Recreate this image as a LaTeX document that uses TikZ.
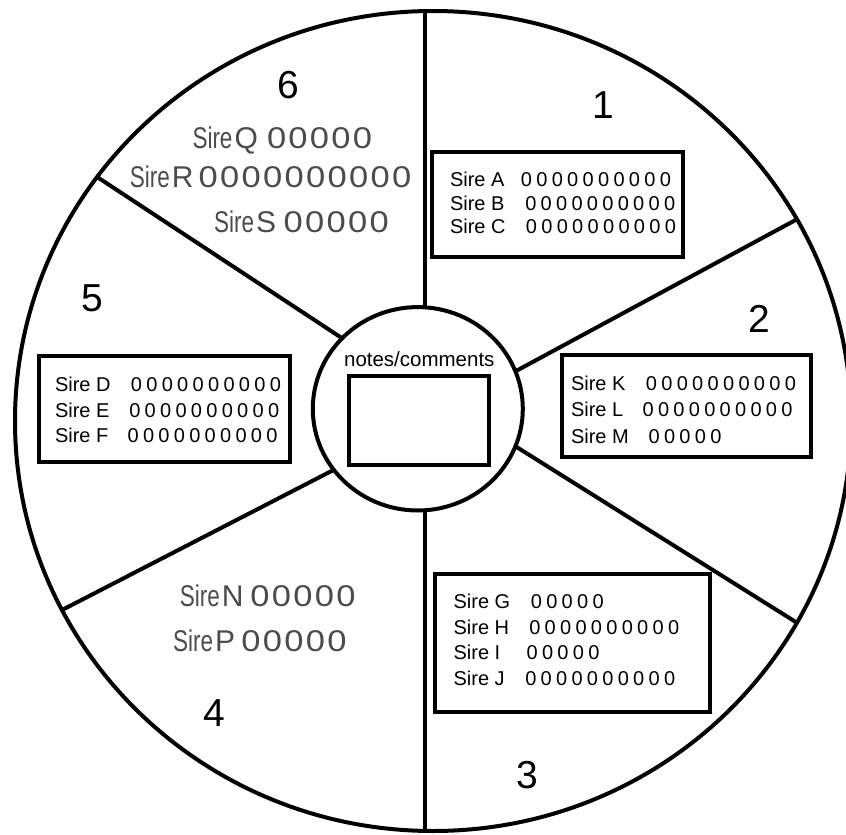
\documentclass[tikz,border=0pt]{standalone}
\usepackage{fontspec}
\setmainfont{Liberation Sans}
\newfontfamily\narrowfont{Liberation Sans}[FakeStretch=0.75]
\newfontfamily\widefont{Liberation Sans}[FakeStretch=1.15]
\usetikzlibrary{shapes.geometric}
\newcommand\zk{\kern4.3pt}
\newcommand\zfive{0\zk0\zk0\zk0\zk0}
\newcommand\zten{\zfive\zk\zfive}
\newcommand\lk{\kern2.3pt}
\newcommand\lfive{0\lk0\lk0\lk0\lk0}
\newcommand\lten{\lfive\lk\lfive}
\newcommand\lsire[1]{{\narrowfont Sire}\kern2pt#1}
\begin{document}
\begin{tikzpicture}[x=1pt,y=-1pt,
  ring/.style={ellipse, draw, line width=4pt, inner sep=0pt, outer sep=0pt},
  boxx/.style={rectangle, draw, line width=4pt, inner sep=0pt, outer sep=0pt},
  spoke/.style={line width=4pt},
  srow/.style={anchor=base west, inner sep=0pt, font=\fontsize{20}{24}\selectfont},
  lrow/.style={anchor=base west, inner sep=0pt, text=black!70, font=\fontsize{30}{36}\selectfont},
  num/.style={anchor=base, inner sep=0pt, font=\fontsize{39}{46}\selectfont},
  ]
\useasboundingbox (0,0) rectangle (846,835);
\fill[white] (0,0) rectangle (846,835);
\clip (0,0) rectangle (846,835);

% circles
\node[ring, minimum width=836pt, minimum height=820pt] (outer) at (433,421) {};
\node[ring, fill=white, minimum width=210pt, minimum height=203.4pt] (inner) at (417.8,408.8) {};

% spokes
\draw[spoke] (inner.86) -- (inner.86 |- outer.north);
\draw[spoke] (inner.-86) -- (inner.-86 |- outer.south);
\draw[spoke] (inner.137.8) -- (outer.144.9);
\draw[spoke] (inner.21.9) -- (outer.29.05);
\draw[spoke] (inner.-21.9) -- (outer.-29.1);
\draw[spoke] (inner.216.7) -- (outer.207.96);

% center
\node[anchor=base, inner sep=0pt, font=\fontsize{20.5}{24}\selectfont] (notes) at (419.3,366) {notes/comments};
\node[boxx, minimum width=140pt, minimum height=88.4pt] (notebox) at (418.7,420.5) {};

% boxes
\node[boxx, minimum width=251pt, minimum height=105.3pt] (box1) at (557.5,204.7) {};
\node[boxx, minimum width=249pt, minimum height=102.3pt] (box2) at (686.8,405.9) {};
\node[boxx, minimum width=274.7pt, minimum height=138pt] (box3) at (572.4,642.8) {};
\node[boxx, minimum width=250.4pt, minimum height=105.4pt] (box5) at (164.5,409) {};

% box 1
\node[srow] (rA) at (449.8,186.7) {\makebox[71pt][l]{Sire A}\zten};
\node[srow] (rB) at (449.8,210) {\makebox[75.3pt][l]{Sire B}\zten};
\node[srow] (rC) at (449.8,233.3) {\makebox[76pt][l]{Sire C}\zten};
% box 2
\node[srow] (rK) at (570.8,390.7) {\makebox[75pt][l]{Sire K}\zten};
\node[srow] (rL) at (570.8,416.7) {\makebox[71.6pt][l]{Sire L}\zten};
\node[srow] (rM) at (570.8,443.3) {\makebox[77.6pt][l]{Sire M}\zfive};
% box 5
\node[srow] (rD) at (54.8,391.7) {\makebox[76pt][l]{Sire D}\zten};
\node[srow] (rE) at (54.8,417.3) {\makebox[74.3pt][l]{Sire E}\zten};
\node[srow] (rF) at (54.8,442.7) {\makebox[72.6pt][l]{Sire F}\zten};
% box 3
\node[srow] (rG) at (453.4,608.3) {\makebox[77.3pt][l]{Sire G}\zfive};
\node[srow] (rH) at (453.4,634) {\makebox[75.7pt][l]{Sire H}\zten};
\node[srow] (rI) at (453.4,659.3) {\makebox[73pt][l]{Sire I}\zfive};
\node[srow] (rJ) at (453.4,685) {\makebox[71.7pt][l]{Sire J}\zten};

% light rows
\node[lrow] (rQ) at (192.3,148.3) {\makebox[74.5pt][l]{\lsire{Q}}{\widefont\lfive}};
\node[lrow] (rR) at (129.7,187.3) {\makebox[68.8pt][l]{\lsire{R}}{\widefont\lten}};
\node[lrow] (rS) at (214,232.7) {\makebox[69.5pt][l]{\lsire{S}}{\widefont\lfive}};
\node[lrow] (rN) at (179.7,606.7) {\makebox[70.5pt][l]{\lsire{N}}{\widefont\lfive}};
\node[lrow] (rP) at (173,651.7) {\makebox[68.2pt][l]{\lsire{P}}{\widefont\lfive}};

% sector numbers
\node[num] (n1) at (603.5,118.2) {1};
\node[num] (n2) at (759.3,332.8) {2};
\node[num] (n3) at (527.7,788) {3};
\node[num] (n4) at (214.3,726.8) {4};
\node[num] (n5) at (92.6,311.5) {5};
\node[num] (n6) at (288.5,98.3) {6};
\end{tikzpicture}
\end{document}
